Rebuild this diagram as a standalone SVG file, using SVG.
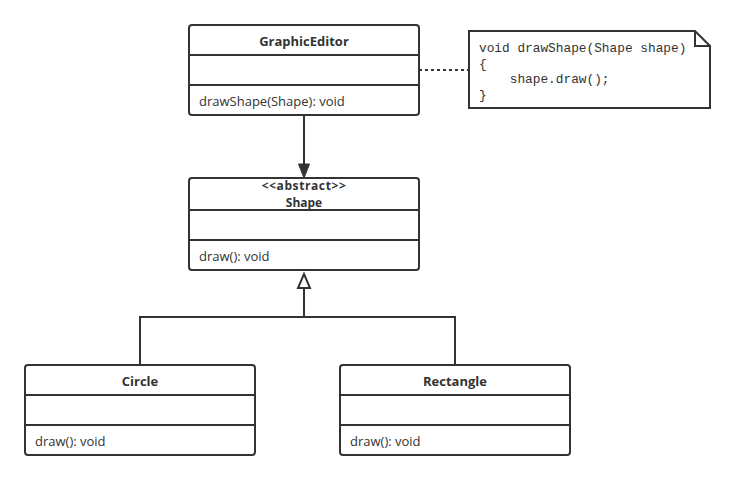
<svg xmlns="http://www.w3.org/2000/svg" width="736" height="480" viewBox="0 0 736 480">
<style>
.box{fill:#fff;stroke:#333;stroke-width:2}
.div{stroke:#333;stroke-width:2}
.t{font-family:"Open Sans","Noto Sans","Liberation Sans",sans-serif;font-size:13px;fill:#333}
.b{font-weight:bold;text-anchor:middle}
.h{font-size:12px}
.m{font-family:"Liberation Mono","DejaVu Sans Mono",monospace;font-size:12.8px;fill:#333;white-space:pre}
.ln{fill:none;stroke:#333;stroke-width:2}
</style>
<rect width="736" height="480" fill="#fff"/>
<g id="connectors">
<line class="ln" x1="419" y1="70" x2="469" y2="70" stroke-dasharray="3,3"/>
<line class="ln" x1="304" y1="115" x2="304" y2="166"/>
<polygon points="298.5,164 309.5,164 304,178" fill="#333" stroke="#333" stroke-width="1"/>
<polyline class="ln" points="140,365 140,317 455,317 455,365"/>
<line class="ln" x1="304" y1="317" x2="304" y2="288"/>
<polygon points="298,288 310,288 304,274" fill="#fff" stroke="#333" stroke-width="2"/>
</g>
<g id="GraphicEditor">
<rect class="box" x="189" y="25" width="230" height="90" rx="3"/>
<line class="div" x1="189" y1="55" x2="419" y2="55"/>
<line class="div" x1="189" y1="85" x2="419" y2="85"/>
<text class="t b" x="304" y="46">GraphicEditor</text>
<text class="t" x="199" y="106">drawShape(Shape): void</text>
</g>
<g id="note">
<path class="box" d="M469,31 H695 L710,46 V108 H469 Z"/>
<path d="M695,31 V46 H710" fill="none" stroke="#333" stroke-width="2"/>
<text class="m" x="479" y="52">void drawShape(Shape shape)</text>
<text class="m" x="479" y="68">{</text>
<text class="m" x="479" y="83">    shape.draw();</text>
<text class="m" x="479" y="99">}</text>
</g>
<g id="Shape">
<rect class="box" x="189" y="178" width="230" height="92" rx="3"/>
<line class="div" x1="189" y1="210" x2="419" y2="210"/>
<line class="div" x1="189" y1="240" x2="419" y2="240"/>
<text class="t b h" x="304" y="190" letter-spacing="0.6">&lt;&lt;abstract&gt;&gt;</text>
<text class="t b h" x="304" y="207">Shape</text>
<text class="t" x="199" y="261">draw(): void</text>
</g>
<g id="Circle">
<rect class="box" x="25" y="365" width="230" height="90" rx="3"/>
<line class="div" x1="25" y1="395" x2="255" y2="395"/>
<line class="div" x1="25" y1="425" x2="255" y2="425"/>
<text class="t b" x="140" y="386">Circle</text>
<text class="t" x="35" y="446">draw(): void</text>
</g>
<g id="Rectangle">
<rect class="box" x="340" y="365" width="230" height="90" rx="3"/>
<line class="div" x1="340" y1="395" x2="570" y2="395"/>
<line class="div" x1="340" y1="425" x2="570" y2="425"/>
<text class="t b" x="455" y="386">Rectangle</text>
<text class="t" x="350" y="446">draw(): void</text>
</g>
</svg>
